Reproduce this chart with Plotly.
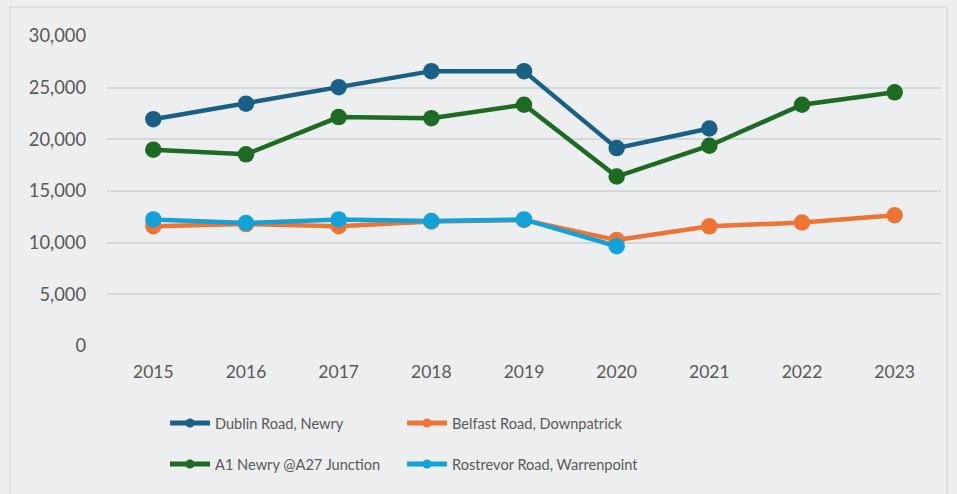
import plotly.graph_objects as go

years = ["2015", "2016", "2017", "2018", "2019", "2020", "2021", "2022", "2023"]
dublin_road_newry = [21950, 23450, 25050, 26600, 26600, 19150, 21050, None, None]
belfast_road_downpatrick = [11600, 11800, 11600, 12050, 12200, 10250, 11580, 11950, 12650]
a1_newry_a27 = [19000, 18550, 22150, 22050, 23350, 16400, 19380, 23350, 24550]
rostrevor_road_warrenpoint = [12250, 11900, 12250, 12100, 12250, 9650, None, None, None]

series_names = ["Dublin Road, Newry", "Belfast Road, Downpatrick",
                "A1 Newry @A27 Junction", "Rostrevor Road, Warrenpoint"]
series_values = [dublin_road_newry, belfast_road_downpatrick, a1_newry_a27, rostrevor_road_warrenpoint]
colors = ["#195F86", "#ED7432", "#1D6B22", "#13A1D8"]
legend_ids = ["legend", "legend2", "legend", "legend2"]

FONT = "Lato, 'Open Sans', sans-serif"
TXT = "#595959"

fig = go.Figure()
order = [0, 2, 1, 3]
for i in order:
    fig.add_trace(go.Scatter(
        x=years, y=series_values[i], name=series_names[i], mode="lines+markers",
        line=dict(color=colors[i], width=4.5), marker=dict(color=colors[i], size=16.5),
        showlegend=False, connectgaps=False, hoverinfo="x+y+name"))
for i in range(4):
    fig.add_trace(go.Scatter(
        x=[None], y=[None], name=series_names[i], mode="lines+markers",
        line=dict(color=colors[i], width=5), marker=dict(color=colors[i], size=9),
        showlegend=True, legend=legend_ids[i], legendgroup=f"g{i}"))

legend_common = dict(xanchor="left", yanchor="top", orientation="v",
                     xref="container", yref="container",
                     bgcolor="rgba(0,0,0,0)", tracegroupgap=19, itemwidth=40,
                     font=dict(size=14.6, color=TXT, family=FONT))

fig.update_layout(
    width=957, height=494,
    margin=dict(l=107, r=16, t=36, b=148, autoexpand=False),
    paper_bgcolor="#EDEEF0", plot_bgcolor="#EDEEF0",
    font=dict(family=FONT, size=18, color=TXT),
    xaxis=dict(type="category", range=[-0.5, 8.5], showgrid=False, showline=False,
               zeroline=False, ticks="", ticklabelstandoff=13,
               tickfont=dict(size=17.5, color=TXT)),
    yaxis=dict(range=[0, 30000], tickvals=[0, 5000, 10000, 15000, 20000, 25000, 30000],
               tickformat=",d", showgrid=True, gridcolor="#D6D7D9", gridwidth=1.5,
               zeroline=False, showline=False, ticks="", ticklabelstandoff=20,
               tickfont=dict(size=18.3, color=TXT)),
    legend=dict(x=165 / 957, y=1 - 407 / 494, **legend_common),
    legend2=dict(x=402 / 957, y=1 - 407 / 494, **legend_common),
    shapes=[dict(type="rect", xref="paper", yref="paper",
                 x0=(10 - 107) / 834, x1=(947 - 107) / 834,
                 y0=-0.6, y1=(346 - 7) / 310,
                 line=dict(color="#D9D9D9", width=1.5), fillcolor="rgba(0,0,0,0)",
                 layer="below")],
)

fig.write_html("out.html", config={"displayModeBar": False},
               post_script="document.body.style.margin='0';document.body.style.background='#EDEEF0';")
